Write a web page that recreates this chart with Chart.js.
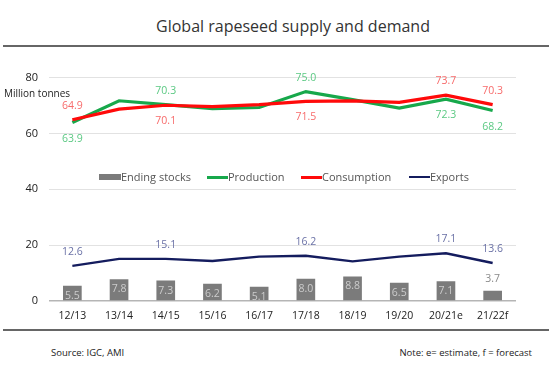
<!DOCTYPE html>
<html>
<head>
<meta charset="utf-8">
<script src="https://cdn.jsdelivr.net/npm/chart.js@4.4.0/dist/chart.umd.min.js"></script>
<style>
  body { margin: 0; width: 549px; height: 377px; background: #fff; font-family: "Open Sans", sans-serif; position: relative; overflow: hidden; }
  #title { position: absolute; top: 15px; left: 0; width: 586px; text-align: center; font-size: 16px; color: #333; }
  .rule { position: absolute; left: 3px; right: 0; height: 2px; background: #666; }
  #wrap { position: absolute; left: 0; top: 60px; width: 549px; height: 270px; }
  #unit { position: absolute; left: 4px; top: 86px; font-size: 10px; color: #222; }
  #legend { position: absolute; top: 169px; left: 99px; font-size: 11px; color: #555; }
  .item { position: absolute; white-space: nowrap; top: 0; }
  .sw { display: inline-block; width: 21px; vertical-align: middle; position: relative; top: -1px; }
  .foot { position: absolute; top: 346px; font-size: 9.5px; color: #222; }
</style>
</head>
<body>
<div id="title">Global rapeseed supply and demand</div>
<div class="rule" style="top:45px"></div>
<div id="wrap"><canvas id="chart"></canvas></div>
<div id="unit">Million tonnes</div>
<div id="legend"></div>
<div class="rule" style="top:329px"></div>
<div class="foot" style="left:51px">Source: IGC, AMI</div>
<div class="foot" style="right:17px">Note: e= estimate, f = forecast</div>
<script>
// data
const seasons = ["12/13", "13/14", "14/15", "15/16", "16/17", "17/18", "18/19", "19/20", "20/21e", "21/22f"];
const endingStocks = [5.5, 7.8, 7.3, 6.2, 5.1, 8.0, 8.8, 6.5, 7.1, 3.7];
const production = [63.9, 71.7, 70.3, 68.9, 69.3, 75.0, 72.1, 69.1, 72.3, 68.2];
const consumption = [64.9, 68.7, 70.1, 69.6, 70.3, 71.5, 71.7, 71.1, 73.7, 70.3];
const exportsData = [12.6, 15.1, 15.1, 14.3, 15.9, 16.2, 14.2, 15.9, 17.1, 13.6];

// which points get a value label, and where
const prodLabels = ["below", null, "above", null, null, "above", null, null, "below", "below"];
const consLabels = ["above", null, "below", null, null, "below", null, null, "above", "above"];
const expLabels = ["above", null, "above", null, null, "above", null, null, "above", "above"];
const stockLabels = ["in", "in", "in", "in", "in", "in", "in", "in", "in", "above"];

const labelPlugin = {
  id: "valueLabels",
  afterDatasetsDraw(chart) {
    const ctx = chart.ctx;
    ctx.save();
    ctx.font = "10.5px 'Open Sans'";
    ctx.textAlign = "center";
    ctx.textBaseline = "middle";
    chart.data.datasets.forEach((ds, di) => {
      const meta = chart.getDatasetMeta(di);
      meta.data.forEach((el, i) => {
        const pos = ds.labelPos[i];
        if (!pos) return;
        const txt = ds.data[i].toFixed(1);
        let y = el.y;
        if (ds.type === "bar") {
          if (pos === "in") { ctx.fillStyle = "#cccccc"; y = el.y + 10; }
          else { ctx.fillStyle = "#8a8a8a"; y = el.y - 12; }
        } else {
          ctx.fillStyle = ds.labelColor;
          y = pos === "above" ? el.y - 14 : el.y + 16;
        }
        ctx.fillText(txt, el.x, y);
      });
    });
    ctx.restore();
  }
};

const chart = new Chart(document.getElementById("chart"), {
  data: {
    labels: seasons,
    datasets: [
      { type: "line", label: "Consumption", data: consumption, borderColor: "#ff0a0a", borderWidth: 3.2, pointRadius: 0, tension: 0, order: 1, labelPos: consLabels, labelColor: "#f76b6b" },
      { type: "line", label: "Production", data: production, borderColor: "#17a84b", borderWidth: 3.2, pointRadius: 0, tension: 0, order: 2, labelPos: prodLabels, labelColor: "#5bc983" },
      { type: "line", label: "Exports", data: exportsData, borderColor: "#141c5e", borderWidth: 2.4, pointRadius: 0, tension: 0, order: 3, labelPos: expLabels, labelColor: "#6a71a6" },
      { type: "bar", label: "Ending stocks", data: endingStocks, backgroundColor: "#7b7b7b", barPercentage: 0.4, categoryPercentage: 1, order: 4, labelPos: stockLabels }
    ]
  },
  options: {
    responsive: true,
    maintainAspectRatio: false,
    animation: false,
    layout: { padding: { top: 16, right: 33, left: 0, bottom: 0 } },
    plugins: { legend: { display: false }, tooltip: { enabled: false } },
    scales: {
      x: {
        grid: { display: false },
        border: { display: false },
        ticks: { color: "#222", font: { family: "Open Sans", size: 10.5 }, padding: 1, maxRotation: 0 },
        afterFit(s) { s.height = 29; }
      },
      y: {
        min: 0, max: 80,
        ticks: { stepSize: 20, color: "#222", font: { family: "Open Sans", size: 11 }, padding: 11 },
        grid: { drawTicks: false, color: ctx => ctx.tick.value === 0 ? "#b5b5b5" : "#e2e2e2", lineWidth: ctx => ctx.tick.value === 0 ? 1.6 : 1 },
        border: { display: false },
        afterFit(s) { s.width = 49; }
      }
    }
  },
  plugins: [labelPlugin]
});

// legend built from the datasets
const legendOrder = ["Ending stocks", "Production", "Consumption", "Exports"];
const legendX = [0, 108, 202, 310];
const legend = document.getElementById("legend");
legendOrder.forEach((name, k) => {
  const ds = chart.data.datasets.find(d => d.label === name);
  const item = document.createElement("span");
  item.className = "item";
  item.style.left = legendX[k] + "px";
  const sw = document.createElement("span");
  sw.className = "sw";
  if (ds.type === "bar") { sw.style.height = "6px"; sw.style.width = "22px"; sw.style.background = ds.backgroundColor; }
  else { sw.style.height = ds.borderWidth > 3 ? "3px" : "2px"; sw.style.background = ds.borderColor; }
  item.appendChild(sw);
  item.appendChild(document.createTextNode(name));
  legend.appendChild(item);
});
</script>
</body>
</html>
